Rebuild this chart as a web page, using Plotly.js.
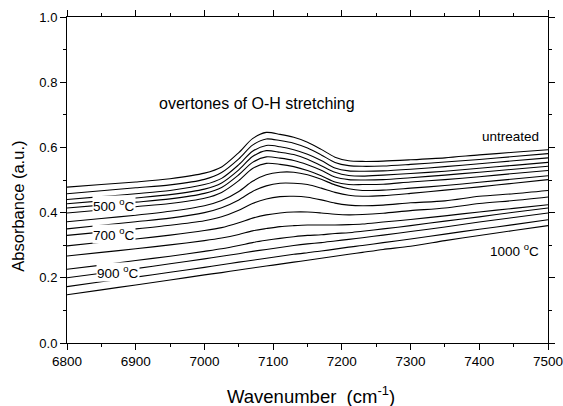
<!DOCTYPE html>
<html>
<head>
<meta charset="utf-8">
<script src="https://cdn.plot.ly/plotly-3.0.1.min.js"></script>
<style>html,body{margin:0;padding:0;background:#fff;}#chart{width:563px;height:406px;}</style>
</head>
<body>
<div id="chart"></div>
<script>
// Wavenumber grid (cm^-1)
const wavenumber = [6800, 6850, 6900, 6950, 7000, 7025, 7050, 7070, 7090, 7110, 7130, 7150, 7170, 7190, 7210, 7230, 7260, 7300, 7350, 7400, 7450, 7500];

// Series names (top to bottom)
const seriesNames = ['untreated', '200 °C', '300 °C', '400 °C', '500 °C', '550 °C', '600 °C', '650 °C', '700 °C', '750 °C', '800 °C', '850 °C', '900 °C', '950 °C', '1000 °C'];

// Absorbance values for each series
const s01 = [0.478, 0.486, 0.494, 0.504, 0.521, 0.540, 0.584, 0.627, 0.646, 0.640, 0.631, 0.616, 0.594, 0.570, 0.559, 0.557, 0.558, 0.562, 0.568, 0.577, 0.585, 0.593];
const s02 = [0.458, 0.467, 0.476, 0.485, 0.502, 0.523, 0.565, 0.607, 0.626, 0.621, 0.613, 0.598, 0.577, 0.554, 0.544, 0.542, 0.543, 0.548, 0.555, 0.563, 0.572, 0.581];
const s03 = [0.440, 0.449, 0.458, 0.468, 0.486, 0.505, 0.547, 0.588, 0.606, 0.602, 0.593, 0.579, 0.560, 0.537, 0.528, 0.527, 0.528, 0.533, 0.541, 0.550, 0.559, 0.568];
const s04 = [0.427, 0.436, 0.445, 0.455, 0.472, 0.491, 0.531, 0.572, 0.590, 0.585, 0.578, 0.564, 0.544, 0.524, 0.514, 0.512, 0.515, 0.520, 0.527, 0.536, 0.545, 0.554];
const s05 = [0.414, 0.423, 0.432, 0.442, 0.459, 0.477, 0.516, 0.554, 0.571, 0.567, 0.560, 0.547, 0.530, 0.509, 0.501, 0.500, 0.501, 0.507, 0.515, 0.524, 0.533, 0.542];
const s06 = [0.399, 0.408, 0.418, 0.428, 0.444, 0.462, 0.498, 0.535, 0.551, 0.548, 0.541, 0.529, 0.513, 0.494, 0.486, 0.486, 0.487, 0.494, 0.501, 0.510, 0.520, 0.529];
const s07 = [0.372, 0.382, 0.392, 0.404, 0.421, 0.437, 0.465, 0.496, 0.516, 0.524, 0.524, 0.516, 0.502, 0.485, 0.473, 0.468, 0.469, 0.475, 0.483, 0.493, 0.503, 0.513];
const s08 = [0.350, 0.361, 0.372, 0.383, 0.400, 0.415, 0.439, 0.465, 0.482, 0.490, 0.490, 0.486, 0.475, 0.462, 0.453, 0.450, 0.452, 0.459, 0.469, 0.479, 0.490, 0.501];
const s09 = [0.330, 0.340, 0.350, 0.361, 0.375, 0.387, 0.407, 0.428, 0.442, 0.449, 0.450, 0.447, 0.439, 0.429, 0.423, 0.421, 0.423, 0.430, 0.436, 0.450, 0.458, 0.468];
const s10 = [0.298, 0.309, 0.319, 0.331, 0.345, 0.354, 0.369, 0.383, 0.393, 0.399, 0.402, 0.402, 0.399, 0.395, 0.393, 0.394, 0.398, 0.406, 0.414, 0.428, 0.437, 0.448];
const s11 = [0.267, 0.278, 0.289, 0.301, 0.314, 0.322, 0.333, 0.344, 0.351, 0.357, 0.360, 0.362, 0.362, 0.362, 0.363, 0.365, 0.371, 0.379, 0.390, 0.402, 0.413, 0.424];
const s12 = [0.226, 0.239, 0.253, 0.266, 0.281, 0.289, 0.299, 0.308, 0.315, 0.321, 0.326, 0.330, 0.332, 0.336, 0.338, 0.343, 0.350, 0.360, 0.374, 0.387, 0.401, 0.414];
const s13 = [0.200, 0.214, 0.228, 0.243, 0.258, 0.266, 0.274, 0.281, 0.287, 0.293, 0.299, 0.304, 0.308, 0.313, 0.318, 0.323, 0.331, 0.342, 0.356, 0.371, 0.385, 0.399];
const s14 = [0.173, 0.188, 0.202, 0.217, 0.232, 0.240, 0.248, 0.254, 0.260, 0.266, 0.272, 0.277, 0.282, 0.288, 0.294, 0.299, 0.308, 0.319, 0.334, 0.349, 0.363, 0.378];
const s15 = [0.148, 0.163, 0.178, 0.193, 0.209, 0.216, 0.224, 0.230, 0.236, 0.242, 0.248, 0.254, 0.260, 0.266, 0.272, 0.278, 0.287, 0.297, 0.314, 0.330, 0.345, 0.360];

const series = [s01, s02, s03, s04, s05, s06, s07, s08, s09, s10, s11, s12, s13, s14, s15];

// Axis tick values
const xTicks = [6800, 6900, 7000, 7100, 7200, 7300, 7400, 7500];
const yTicks = [0.0, 0.2, 0.4, 0.6, 0.8, 1.0];

const FONT = 'Liberation Sans, Arial, Helvetica, sans-serif';

const traces = series.map((ys, i) => ({
  type: 'scatter',
  mode: 'lines',
  name: seriesNames[i],
  x: wavenumber,
  y: ys,
  line: {color: '#000', width: 1.1, shape: 'spline', smoothing: 0.8},
  hoverinfo: 'x+y+name'
}));

const layout = {
  width: 563,
  height: 406,
  margin: {l: 67, r: 15, t: 17, b: 63, pad: 0},
  paper_bgcolor: '#fff',
  plot_bgcolor: '#fff',
  showlegend: false,
  font: {family: FONT, color: '#000', size: 13},
  xaxis: {
    range: [6800, 7500],
    tickvals: xTicks,
    ticktext: xTicks.map(String),
    ticks: 'outside', ticklen: 6, tickwidth: 1, tickcolor: '#000',
    ticklabeloverflow: 'allow',
    minor: {dtick: 50, tick0: 6800, ticks: 'outside', ticklen: 3, tickwidth: 1, tickcolor: '#000', showgrid: false},
    showline: true, linecolor: '#000', linewidth: 1, mirror: 'ticks',
    showgrid: false, zeroline: false,
    tickfont: {family: FONT, size: 13.5, color: '#000'}
  },
  yaxis: {
    range: [0, 1.0],
    tickvals: yTicks,
    ticktext: yTicks.map(v => v.toFixed(1)),
    ticks: 'outside', ticklen: 6, tickwidth: 1, tickcolor: '#000',
    ticklabeloverflow: 'allow',
    minor: {dtick: 0.1, tick0: 0, ticks: 'outside', ticklen: 3, tickwidth: 1, tickcolor: '#000', showgrid: false},
    showline: true, linecolor: '#000', linewidth: 1, mirror: 'ticks',
    showgrid: false, zeroline: false,
    tickfont: {family: FONT, size: 13, color: '#000'}
  },
  annotations: [
    {text: 'Wavenumber\u00a0\u00a0(cm<sup>-1</sup>)', xref: 'paper', yref: 'paper', x: 0.508, y: -0.158, xanchor: 'center', yanchor: 'middle', showarrow: false, font: {family: FONT, size: 18.5, color: '#000'}},
    {text: 'Absorbance (a.u.)', textangle: -90, xref: 'paper', yref: 'paper', x: -0.102, y: 0.421, xanchor: 'center', yanchor: 'middle', showarrow: false, font: {family: FONT, size: 16.5, color: '#000'}},
    {text: 'overtones of O-H stretching', xref: 'paper', yref: 'paper', x: 0.187, y: 0.735, xanchor: 'left', yanchor: 'middle', showarrow: false, font: {family: FONT, size: 16, color: '#000'}},
    {text: 'untreated', xref: 'paper', yref: 'paper', x: 0.986, y: 0.633, xanchor: 'right', yanchor: 'middle', showarrow: false, font: {family: FONT, size: 13.5, color: '#000'}},
    {text: '1000 <sup>o</sup>C', xref: 'paper', yref: 'paper', x: 0.986, y: 0.285, xanchor: 'right', yanchor: 'middle', showarrow: false, font: {family: FONT, size: 13.5, color: '#000'}},
    {text: '500 <sup>o</sup>C', xref: 'paper', yref: 'paper', x: 0.052, y: 0.422, xanchor: 'left', yanchor: 'middle', showarrow: false, bgcolor: '#fff', borderpad: 0, font: {family: FONT, size: 13.5, color: '#000'}},
    {text: '700 <sup>o</sup>C', xref: 'paper', yref: 'paper', x: 0.052, y: 0.335, xanchor: 'left', yanchor: 'middle', showarrow: false, bgcolor: '#fff', borderpad: 0, font: {family: FONT, size: 13.5, color: '#000'}},
    {text: '900 <sup>o</sup>C', xref: 'paper', yref: 'paper', x: 0.060, y: 0.218, xanchor: 'left', yanchor: 'middle', showarrow: false, bgcolor: '#fff', borderpad: 0, font: {family: FONT, size: 13.5, color: '#000'}}
  ]
};

Plotly.newPlot('chart', traces, layout, {displayModeBar: false, staticPlot: true});
</script>
</body>
</html>
